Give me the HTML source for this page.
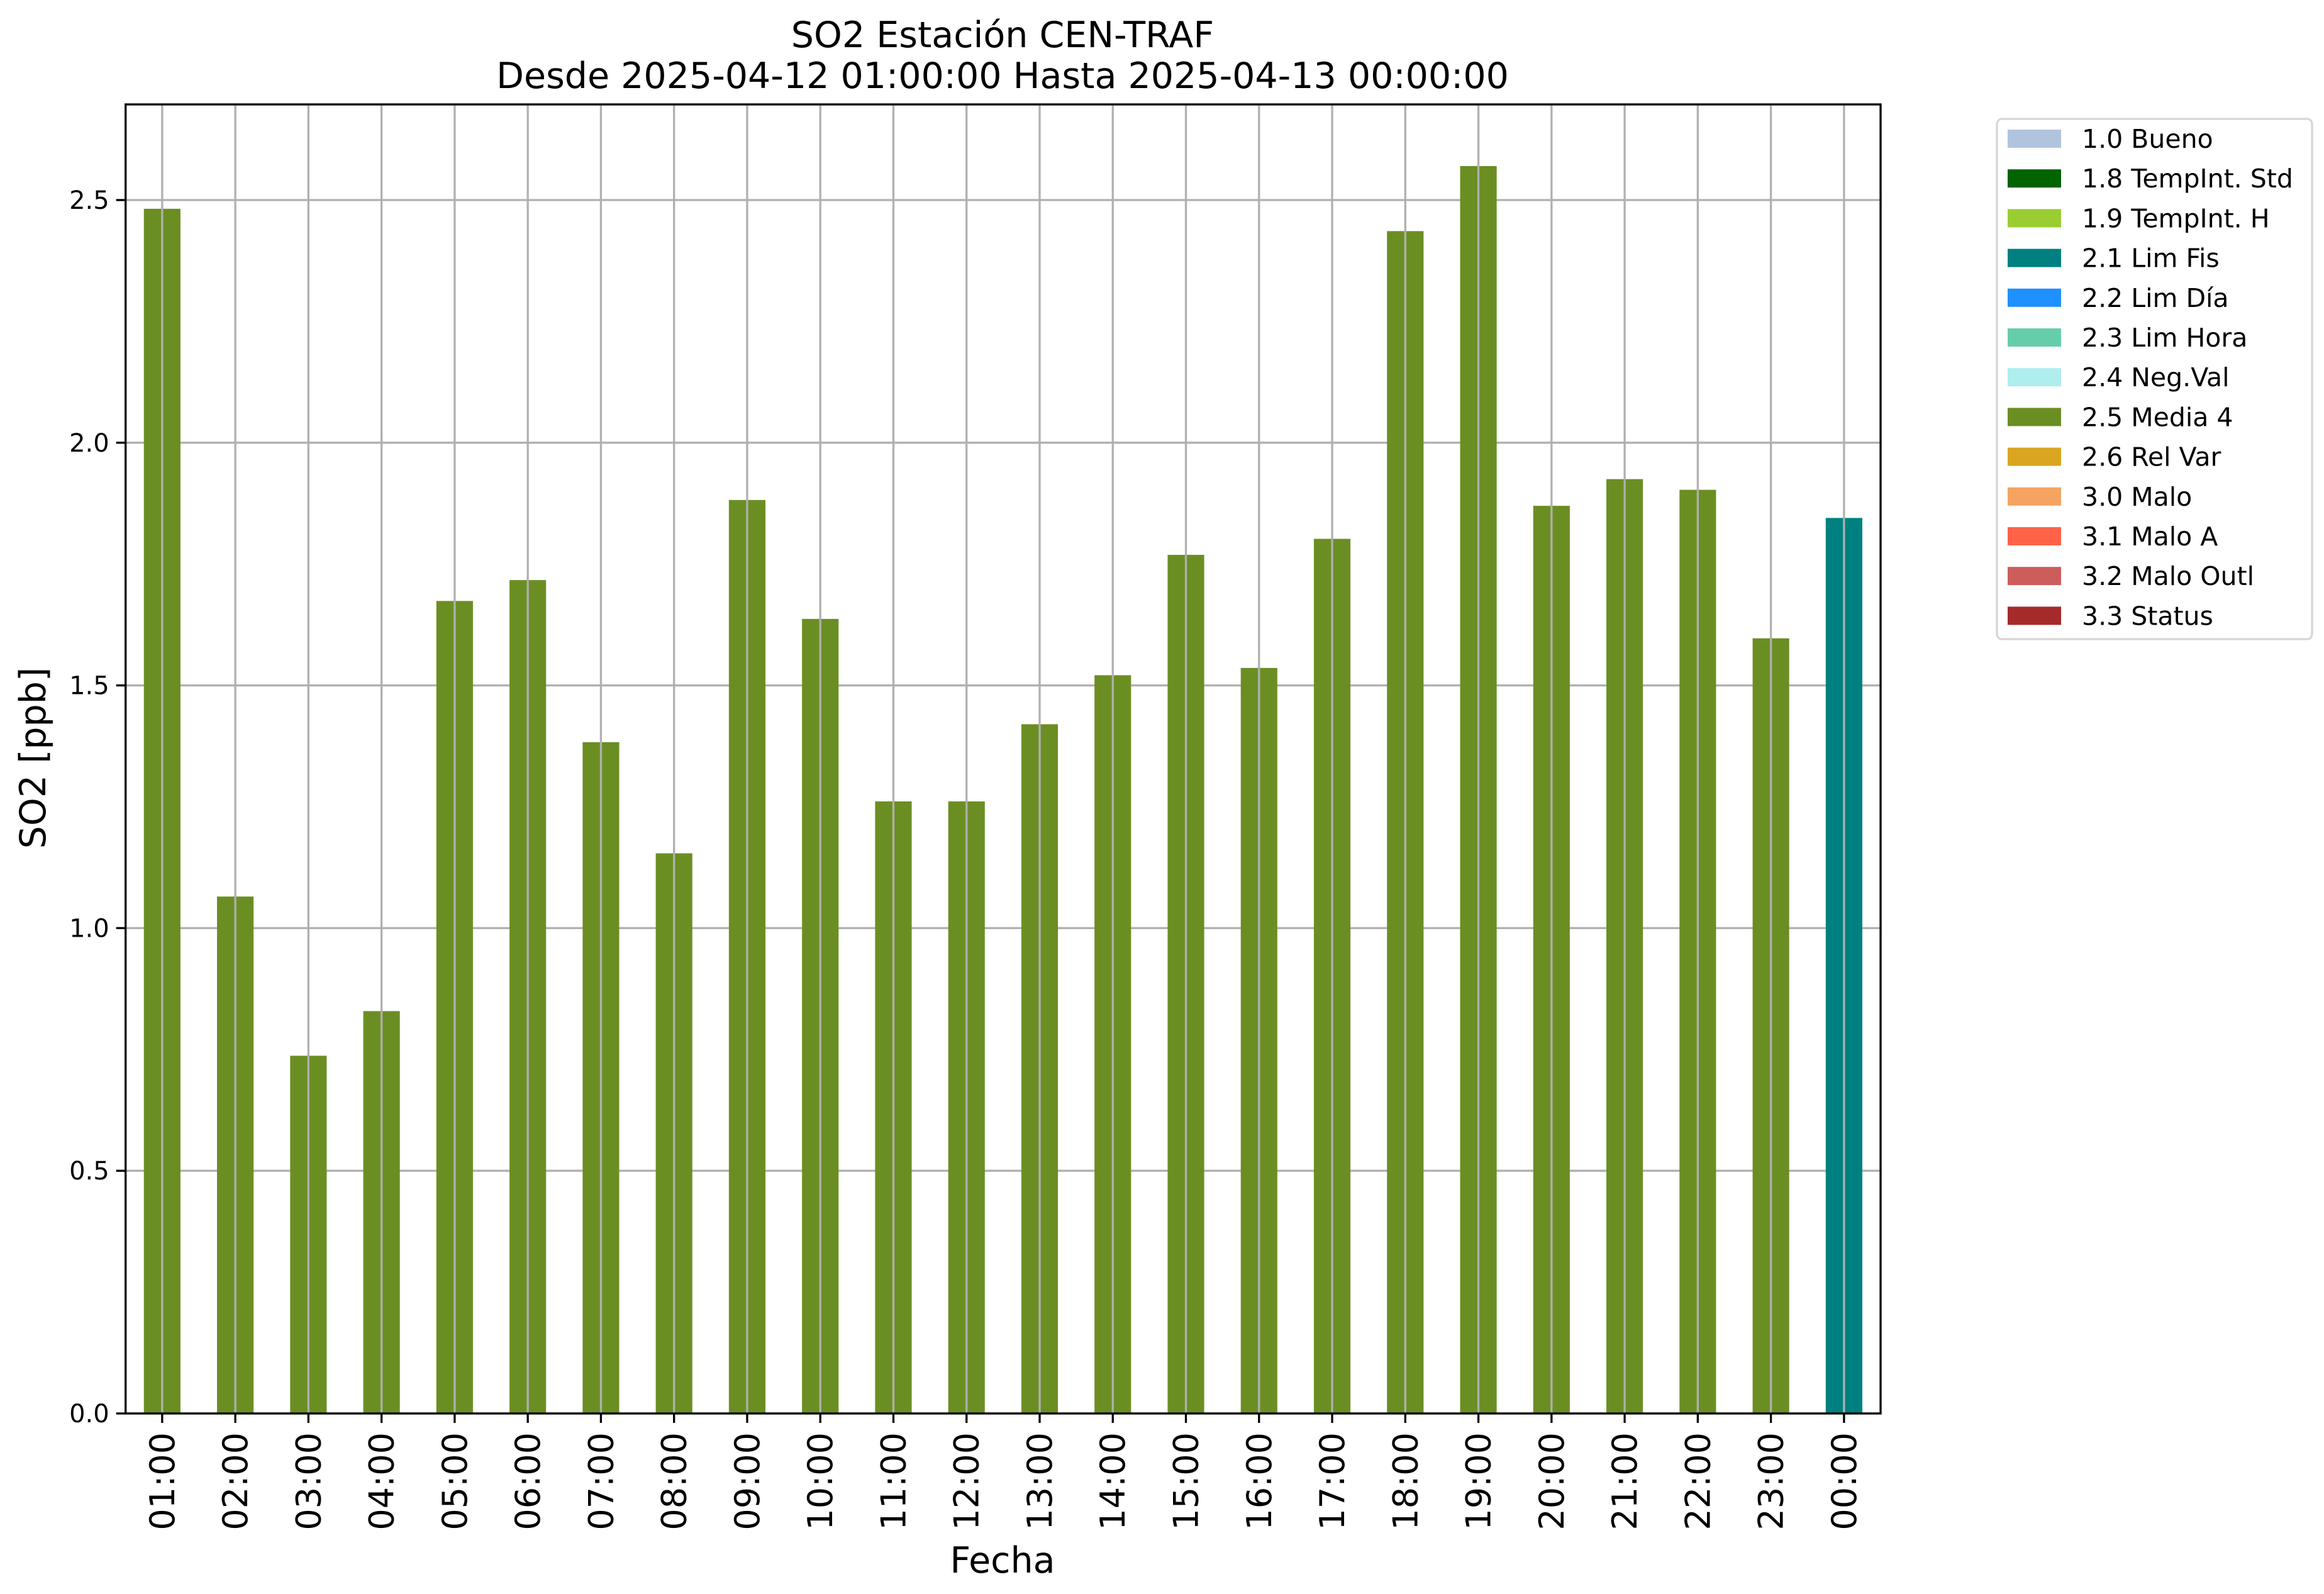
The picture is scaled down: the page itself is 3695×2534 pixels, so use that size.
<!DOCTYPE html>
<html><head><meta charset="utf-8"><style>
html,body{margin:0;padding:0;background:#fff;}
svg{display:block;font-family:"DejaVu Sans","Liberation Sans",sans-serif;}
</style></head><body>
<svg id="chart" width="3695" height="2534" viewBox="0 0 3695 2534" xmlns="http://www.w3.org/2000/svg">
<rect width="3695" height="2534" fill="#fff"/>
<text x="1594" y="75" font-size="57" text-anchor="middle">SO2 Estación CEN-TRAF</text>
<text x="1594" y="140" font-size="57" text-anchor="middle">Desde 2025-04-12 01:00:00 Hasta 2025-04-13 00:00:00</text>
<g id="grid"></g>
<g id="bars"></g>
<g id="axes"></g>
<text transform="translate(72,1205) rotate(-90)" font-size="57" text-anchor="middle">SO2 [ppb]</text>
<text x="1594" y="2500" font-size="57" text-anchor="middle">Fecha</text>
<g id="legend"></g>
</svg>
<script>
const categories = ["01:00","02:00","03:00","04:00","05:00","06:00","07:00","08:00","09:00","10:00","11:00","12:00","13:00","14:00","15:00","16:00","17:00","18:00","19:00","20:00","21:00","22:00","23:00","00:00"];
const values = [2.482,1.065,0.737,0.829,1.674,1.717,1.383,1.154,1.882,1.637,1.261,1.261,1.420,1.521,1.769,1.536,1.802,2.436,2.570,1.870,1.925,1.903,1.597,1.845];
const flags = ["2.5","2.5","2.5","2.5","2.5","2.5","2.5","2.5","2.5","2.5","2.5","2.5","2.5","2.5","2.5","2.5","2.5","2.5","2.5","2.5","2.5","2.5","2.5","2.1"];
const yTicks = [0,0.5,1.0,1.5,2.0,2.5];
const yTickLabels = ["0.0","0.5","1.0","1.5","2.0","2.5"];
const legendLabels = ["1.0 Bueno","1.8 TempInt. Std","1.9 TempInt. H","2.1 Lim Fis","2.2 Lim Día","2.3 Lim Hora","2.4 Neg.Val","2.5 Media 4","2.6 Rel Var","3.0 Malo","3.1 Malo A","3.2 Malo Outl","3.3 Status"];
const legendColors = ["#b0c4de","#006400","#9acd32","#008080","#1e90ff","#66cdaa","#afeeee","#6b8e23","#daa520","#f4a460","#ff6347","#cd5c5c","#a52a2a"];
const yMax = 2.697;

const NS="http://www.w3.org/2000/svg";
const L=199.7,R=2990,T=166,B=2247;
function xPos(i){return L+(i+0.5)*(R-L)/categories.length;}
function yPos(v){return B-(v/yMax)*(B-T);}
function mk(tag,attrs,parent){const e=document.createElementNS(NS,tag);for(const k in attrs)e.setAttribute(k,attrs[k]);parent.appendChild(e);return e;}
const grid=document.getElementById('grid'),bars=document.getElementById('bars'),axes=document.getElementById('axes'),legend=document.getElementById('legend');
const step=(R-L)/categories.length;
categories.forEach((c,i)=>{
  const x=xPos(i);
  const g=mk('line',{x1:x,x2:x,y1:T,y2:B,stroke:'#b0b0b0','stroke-width':3.3},grid);
  
  
});
yTicks.forEach((v,i)=>{
  const y=yPos(v);
  const g=mk('line',{x1:L,x2:R,y1:y,y2:y,stroke:'#b0b0b0','stroke-width':3.3},grid);
  
  
  const t=mk('line',{x1:L-15,x2:L,y1:y,y2:y,stroke:'#000','stroke-width':3.3},axes);
  
  
  const lb=mk('text',{x:L-26,y:y+14,'font-size':40,'text-anchor':'end'},axes);
  lb.textContent=yTickLabels[i];
  
  
});
values.forEach((v,i)=>{
  const x=xPos(i),w=step*0.5;
  const col=legendColors[legendLabels.findIndex(l=>l.startsWith(flags[i]))];
  const r=mk('rect',{x:x-w/2,y:yPos(v),width:w,height:B-yPos(v),fill:col},bars);
  
  
  const gl=mk('line',{x1:x,x2:x,y1:yPos(v),y2:B,stroke:'#b0b0b0','stroke-width':3.3},bars);
  
  
  const t=mk('line',{x1:x,x2:x,y1:B,y2:B+15,stroke:'#000','stroke-width':3.3},axes);
  
  
  const lb=mk('text',{transform:`translate(${x+19},${B+30}) rotate(-90)`,'font-size':54,'text-anchor':'end'},axes);
  lb.textContent=categories[i];
  
  
});
const frame=mk('rect',{x:L,y:T,width:R-L,height:B-T,fill:'none',stroke:'#000','stroke-width':3.3},axes);


const lbox=mk('rect',{x:3175,y:189,width:501,height:827,rx:8,fill:'#fff',stroke:'#d6d6d6','stroke-width':3.3},legend);


legendLabels.forEach((l,i)=>{
  const cy=220+i*63.2;
  const p=mk('rect',{x:3192,y:cy-14,width:85,height:29,fill:legendColors[i]},legend);
  
  
  const t=mk('text',{x:3310,y:cy+15,'font-size':41},legend);
  t.textContent=l;
  
  
});
</script>
</body></html>
